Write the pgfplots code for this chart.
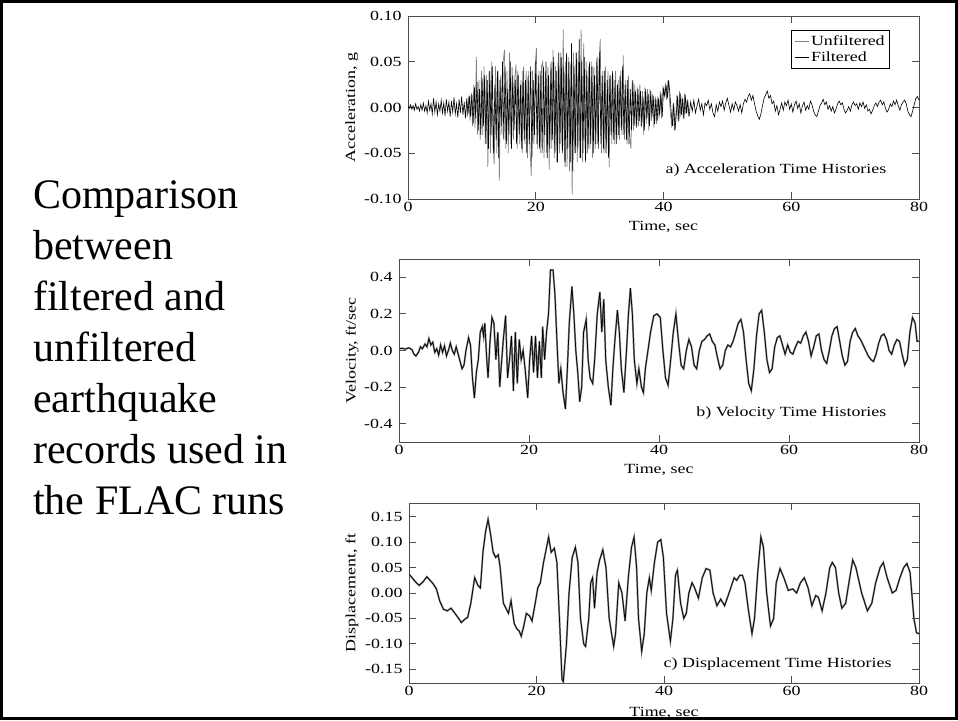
\documentclass[border=0pt]{standalone}
\usepackage{fontspec}
\setmainfont{Liberation Serif}
\newfontfamily\plotfont[FakeStretch=1.28]{Liberation Serif}
\usepackage{pgfplots}
\pgfplotsset{compat=1.18}

\definecolor{unf}{gray}{0.5}
\definecolor{frame}{gray}{0.3}

\pgfplotsset{
  quake/.style={
    scale only axis,
    anchor=south west,
    xmin=0, xmax=80,
    xtick={0,20,40,60,80},
    xticklabels={0,20,40,60,80},
    tick align=inside,
    major tick length=7pt,
    axis line style={frame, line width=0.9pt},
    tick style={frame, line width=0.9pt},
    ticklabel style={font=\plotfont\fontsize{14}{14}\selectfont},
    yticklabel style={xshift=-3pt},
    label style={font=\plotfont\fontsize{14}{14}\selectfont},
    xlabel={Time, sec},
  },
}

\begin{document}
\begin{tikzpicture}
\useasboundingbox (0,0) rectangle (958pt,720pt);

% left caption
\begin{scope}[every node/.style={anchor=base west, inner sep=0pt, font=\fontsize{42}{51}\selectfont}]
\node at (33pt,511pt) {Comparison};
\node at (33pt,460pt) {between};
\node at (33pt,409pt) {filtered and};
\node at (33pt,358pt) {unfiltered};
\node at (33pt,307pt) {earthquake};
\node at (33pt,256pt) {records used in};
\node at (33pt,205pt) {the FLAC runs};
\end{scope}

% a) acceleration
\begin{axis}[quake,
  at={(408pt,521pt)}, width=511pt, height=183pt,
  ymin=-0.1, ymax=0.1,
  ytick={-0.1,-0.05,0,0.05,0.1},
  yticklabels={-0.10,-0.05,0.00,0.05,0.10},
  ylabel={Acceleration, g},
  ylabel style={at={(axis description cs:-0.110,0.5)}, anchor=center},
  xlabel style={at={(axis description cs:0.5,-0.153)}, anchor=center},
  legend style={at={(rel axis cs:0.943,0.923)}, anchor=north east,
    draw=black, fill=white, font=\plotfont\fontsize{14}{16}\selectfont,
    inner xsep=3pt, inner ysep=3pt, row sep=1pt},
  legend cell align=left,
  legend image code/.code={\draw[#1, line width=0.7pt] (2pt,0pt) -- (16pt,0pt);},
]
\addplot[unf, line width=0.7pt] coordinates {
(9.1,0.008) (9.3,-0.01) (9.5,0.012) (9.7,-0.014) (9.9,0.016) (10.1,-0.02)
(10.3,0.025) (10.5,-0.022) (10.7,0.055) (10.9,-0.03) (11.1,0.03) (11.3,-0.035)
(11.5,0.04) (11.7,-0.03) (11.9,0.045) (12.1,-0.04) (12.3,0.035) (12.5,-0.065)
(12.7,0.04) (12.9,-0.05) (13.1,0.05) (13.3,-0.04) (13.5,-0.062) (13.7,0.045)
(13.9,-0.05) (14.1,0.04) (14.3,-0.08) (14.5,0.035) (14.7,-0.03) (14.9,0.05)
(15.1,0.063) (15.3,-0.045) (15.5,0.04) (15.7,-0.05) (15.9,0.06) (16.1,-0.04)
(16.3,0.045) (16.5,-0.035) (16.7,0.03) (16.9,0.047) (17.1,-0.045) (17.3,0.035)
(17.5,-0.04) (17.7,0.03) (17.9,-0.05) (18.1,0.045) (18.3,-0.04) (18.5,0.04)
(18.7,-0.055) (18.9,0.04) (19.1,-0.045) (19.3,-0.075) (19.5,0.04) (19.7,-0.04)
(19.9,0.045) (20.1,0.065) (20.3,-0.045) (20.5,0.04) (20.7,-0.05) (20.9,0.045)
(21.1,0.05) (21.3,-0.055) (21.5,0.04) (21.7,-0.05) (21.9,0.045) (22.1,-0.068)
(22.3,0.04) (22.5,-0.045) (22.7,0.063) (22.9,-0.055) (23.1,0.045) (23.3,-0.06)
(23.5,0.05) (23.7,-0.05) (23.9,0.06) (24.1,-0.045) (24.3,0.085) (24.5,-0.06)
(24.7,0.05) (24.9,-0.065) (25.1,0.055) (25.3,-0.07) (25.5,0.05) (25.7,-0.095)
(25.9,0.06) (26.1,-0.05) (26.3,0.06) (26.5,-0.06) (26.7,0.05) (26.9,-0.055)
(27.1,0.085) (27.3,-0.06) (27.5,0.07) (27.7,-0.045) (27.9,0.05) (28.1,-0.05)
(28.3,0.045) (28.5,-0.045) (28.7,0.05) (28.9,-0.055) (29.1,0.045) (29.3,-0.045)
(29.5,0.05) (29.7,-0.04) (29.9,0.05) (30.1,0.075) (30.3,-0.05) (30.5,0.04)
(30.7,-0.05) (30.9,0.045) (31.1,-0.045) (31.3,0.04) (31.5,-0.065) (31.7,0.035)
(31.9,-0.04) (32.1,0.035) (32.3,-0.04) (32.5,0.04) (32.7,-0.035) (32.9,0.03)
(33.1,-0.035) (33.3,0.04) (33.5,-0.03) (33.7,0.057) (33.9,-0.035) (34.1,0.03)
(34.3,-0.04) (34.5,0.035) (34.7,-0.03) (34.9,-0.045) (35.1,0.03) (35.3,-0.025)
(35.5,0.025) (35.7,-0.02) (35.9,0.022) (36.1,-0.02) (36.3,0.025) (36.5,-0.022)
(36.7,0.018) (36.9,-0.03) (37.1,0.022) (37.3,-0.018) (37.5,0.02) (37.7,-0.025)
(37.9,0.02) (38.1,-0.015) (38.3,0.015) (38.5,-0.022) (38.7,0.012) (38.9,-0.018)
(39.1,0.012) (39.3,-0.012) (39.5,0.018) (39.7,-0.012) (39.9,0.022) (40.1,0.015)
(40.3,0.025) (40.5,0.008) (40.7,0.03) (40.9,0.012) (41.1,-0.008) (41.3,-0.022)
(41.5,0.004) (41.7,-0.025) (41.9,-0.01) (42.1,0.014) (42.3,-0.016) (42.5,0.018)
(42.7,-0.01) (42.9,0.012) (43.1,-0.013) (43.3,0.015) (43.5,-0.007) (43.7,0.009)
(43.9,-0.009)
};
\addlegendentry{Unfiltered}
\addplot[black, line width=0.6pt] coordinates {
(0,0.002) (0.2,-0.001) (0.4,0.003) (0.6,-0.002) (0.8,0.002) (1.0,-0.003)
(1.2,0.004) (1.4,-0.002) (1.6,0.001) (1.8,-0.004) (2.0,0.003) (2.2,-0.003)
(2.4,0.005) (2.6,-0.004) (2.8,0.002) (3.0,-0.006) (3.2,0.007) (3.4,-0.003)
(3.6,0.004) (3.8,-0.007) (4.0,0.01) (4.2,-0.005) (4.4,0.006) (4.6,-0.008)
(4.8,0.004) (5.0,-0.004) (5.2,0.008) (5.4,-0.006) (5.6,0.005) (5.8,-0.009)
(6.0,0.009) (6.2,-0.004) (6.4,0.006) (6.6,-0.01) (6.8,0.007) (7.0,-0.005)
(7.2,0.011) (7.4,-0.007) (7.6,0.004) (7.8,-0.011) (8.0,0.009) (8.2,-0.006)
(8.4,0.012) (8.6,-0.008) (8.8,0.006) (9.0,-0.012) (9.2,0.01) (9.4,-0.007)
(9.6,0.013) (9.8,-0.01)
(10.0,0.015) (10.2,-0.018) (10.4,0.022) (10.6,-0.012) (10.8,0.028) (11.0,-0.025)
(11.2,0.02) (11.4,-0.03) (11.6,0.032) (11.8,-0.02) (12.0,0.035) (12.2,-0.04)
(12.4,0.03) (12.6,-0.045) (12.8,0.04) (13.0,-0.03) (13.2,0.045) (13.4,-0.05)
(13.6,0.025) (13.8,-0.035) (14.0,0.04) (14.2,-0.055) (14.4,0.03) (14.6,-0.02)
(14.8,0.05) (15.0,-0.035) (15.2,0.045) (15.4,-0.04) (15.6,0.02) (15.8,-0.03)
(16.0,0.05) (16.2,-0.045) (16.4,0.035) (16.6,-0.025) (16.8,0.03) (17.0,-0.04)
(17.2,0.04) (17.4,-0.03) (17.6,0.025) (17.8,-0.045) (18.0,0.04) (18.2,-0.035)
(18.4,0.03) (18.6,-0.05) (18.8,0.035) (19.0,-0.04) (19.2,0.045) (19.4,-0.055)
(19.6,0.03) (19.8,-0.03) (20.0,0.05) (20.2,-0.04) (20.4,0.035) (20.6,-0.045)
(20.8,0.04) (21.0,-0.05) (21.2,0.045) (21.4,-0.03) (21.6,0.05) (21.8,-0.055)
(22.0,0.035) (22.2,-0.045) (22.4,0.05) (22.6,-0.035) (22.8,0.055) (23.0,-0.05)
(23.2,0.04) (23.4,-0.06) (23.6,0.06) (23.8,-0.04) (24.0,0.055) (24.2,-0.05)
(24.4,0.045) (24.6,-0.065) (24.8,0.06) (25.0,-0.045) (25.2,0.05) (25.4,-0.06)
(25.6,0.07) (25.8,-0.07) (26.0,0.045) (26.2,-0.05) (26.4,0.06) (26.6,-0.045)
(26.8,0.075) (27.0,-0.055) (27.2,0.05) (27.4,-0.05) (27.6,0.055) (27.8,-0.06)
(28.0,0.04) (28.2,-0.045) (28.4,0.05) (28.6,-0.04) (28.8,0.045) (29.0,-0.05)
(29.2,0.035) (29.4,-0.04) (29.6,0.055) (29.8,-0.045) (30.0,0.06) (30.2,-0.04)
(30.4,0.035) (30.6,-0.045) (30.8,0.04) (31.0,-0.05) (31.2,0.03) (31.4,-0.055)
(31.6,0.035) (31.8,-0.03) (32.0,0.04) (32.2,-0.035) (32.4,0.03) (32.6,-0.04)
(32.8,0.025) (33.0,-0.03) (33.2,0.035) (33.4,-0.025) (33.6,0.045) (33.8,-0.03)
(34.0,0.025) (34.2,-0.035) (34.4,0.03) (34.6,-0.04) (34.8,0.02) (35.0,-0.025)
(35.2,0.03) (35.4,-0.02) (35.6,0.018) (35.8,-0.022)
(36.0,0.02) (36.2,-0.015) (36.4,0.018) (36.6,-0.02) (36.8,0.012) (37.0,-0.025)
(37.2,0.02) (37.4,-0.012) (37.6,0.015) (37.8,-0.02) (38.0,0.018) (38.2,-0.01)
(38.4,0.012) (38.6,-0.018) (38.8,0.01) (39.0,-0.015) (39.2,0.01) (39.4,-0.008)
(39.6,0.015) (39.8,-0.01) (40.0,0.02) (40.2,0.012) (40.4,0.025) (40.6,0.01)
(40.8,0.03) (41.0,0.015) (41.2,-0.005) (41.4,-0.02) (41.6,0.005) (41.8,-0.025)
(42.0,-0.008) (42.2,0.012) (42.4,-0.015) (42.6,0.016) (42.8,-0.008) (43.0,0.01)
(43.2,-0.012) (43.4,0.014) (43.6,-0.006) (43.8,0.008)
(44.0,-0.01) (44.25,0.006) (44.5,-0.004) (44.75,0.008) (45.0,-0.006) (45.25,0.002)
(45.5,0.009) (45.75,-0.003) (46.0,0.004) (46.25,-0.008) (46.5,0.005) (46.75,0.002)
(47.0,0.008) (47.25,-0.002) (47.5,0.004) (47.75,-0.006) (48.0,-0.01) (48.25,0.003)
(48.5,-0.004) (48.75,0.006) (49.0,0.001) (49.25,0.007) (49.5,-0.003) (49.75,0.005)
(50.0,0.01) (50.25,0.002) (50.5,-0.005) (50.75,0.004) (51.0,-0.003) (51.25,0.006)
(51.5,0.002) (51.75,-0.004) (52.0,0.003) (52.25,-0.006) (52.5,0.004) (52.75,0.009)
(53.0,0.006) (53.25,0.012) (53.5,0.015) (53.75,0.008) (54.0,0.013) (54.25,0.004)
(54.5,-0.004) (54.75,-0.009) (55.0,-0.013) (55.25,-0.007) (55.5,0.002) (55.75,0.01)
(56.0,0.014) (56.25,0.018) (56.5,0.01) (56.75,0.013) (57.0,0.004) (57.25,0.007)
(57.5,-0.004) (57.75,0.002) (58.0,-0.008) (58.25,-0.002) (58.5,0.005) (58.75,-0.003)
(59.0,0.006) (59.25,0.002) (59.5,0.008) (59.75,-0.002) (60.0,0.004) (60.25,-0.005)
(60.5,0.003) (60.75,0.007) (61.0,-0.001) (61.25,0.004) (61.5,-0.006) (61.75,0.002)
(62.0,0.006) (62.25,-0.003) (62.5,0.002) (62.75,-0.002) (63.0,0.007) (63.25,0.003)
(63.5,-0.004) (63.75,-0.008) (64.0,-0.01) (64.25,-0.004) (64.5,0.002) (64.75,0.005)
(65.0,0.009) (65.25,0.003) (65.5,0.006) (65.75,-0.002) (66.0,0.002) (66.25,-0.004)
(66.5,0.001) (66.75,-0.006) (67.0,-0.002) (67.25,0.004) (67.5,0.007) (67.75,0.003)
(68.0,0.005) (68.25,-0.002) (68.5,-0.006) (68.75,-0.003) (69.0,0.001) (69.25,-0.004)
(69.5,0.003) (69.75,0.006) (70.0,0.002) (70.25,0.004) (70.5,-0.002) (70.75,0.005)
(71.0,0.001) (71.25,0.006) (71.5,-0.001) (71.75,0.003) (72.0,-0.004) (72.25,-0.002)
(72.5,-0.007) (72.75,-0.003) (73.0,0.002) (73.25,0.005) (73.5,0.001) (73.75,0.006)
(74.0,0.008) (74.25,0.003) (74.5,0.006) (74.75,-0.001) (75.0,-0.005) (75.25,-0.002)
(75.5,0.004) (75.75,0.001) (76.0,0.007) (76.25,0.003) (76.5,0.008) (76.75,0.002)
(77.0,-0.003) (77.25,0.003) (77.5,0.006) (77.75,0.008) (78.0,0.004) (78.25,-0.004)
(78.5,-0.008) (78.75,-0.01) (79.0,-0.004) (79.25,0.003) (79.5,0.01) (79.75,0.012)
(80.0,0.008)
};
\addlegendentry{Filtered}
\node[anchor=east, font=\plotfont\fontsize{14}{14}\selectfont] at (rel axis cs:0.943,0.158) {a) Acceleration Time Histories};
\end{axis}

% b) velocity
\begin{axis}[quake,
  at={(399pt,278pt)}, width=520pt, height=183pt,
  ymin=-0.5, ymax=0.5,
  ytick={-0.4,-0.2,0,0.2,0.4},
  yticklabels={-0.4,-0.2,0.0,0.2,0.4},
  ylabel={Velocity, ft/sec},
  ylabel style={at={(axis description cs:-0.090,0.5)}, anchor=center},
  xlabel style={at={(axis description cs:0.5,-0.153)}, anchor=center},
]
\addplot[unf, line width=1.8pt, forget plot] coordinates {
(0,0.01) (0.5,0.012) (1.0,0.008) (1.5,0.015) (2.0,0.005) (2.3,-0.02) (2.6,-0.03)
(3.0,-0.01) (3.3,0.02) (3.6,0.01) (4.0,0.035) (4.3,0.02) (4.6,0.065) (4.9,0.03)
(5.2,0.045) (5.5,-0.01) (5.8,0.01) (6.1,-0.025) (6.4,0.03) (6.7,-0.01) (7.0,0.025)
(7.3,-0.03) (7.6,0.0) (7.9,0.04) (8.2,0.0) (8.5,-0.02) (8.8,0.02) (9.1,-0.02)
(9.4,-0.06) (9.7,-0.1) (10.0,-0.08) (10.3,0.0) (10.7,0.07) (11.0,0.03) (11.3,-0.15)
(11.6,-0.26) (11.9,-0.12) (12.2,-0.05) (12.5,0.1) (12.8,0.13) (13.0,0.08) (13.2,0.15)
(13.5,-0.05) (13.7,-0.15) (14.0,0.05) (14.3,0.18) (14.6,0.15) (14.9,-0.05) (15.2,0.1)
(15.5,-0.2) (15.8,-0.05) (16.1,0.08) (16.4,0.19) (16.7,-0.15) (17.0,-0.05) (17.3,0.08)
(17.6,-0.22) (17.9,0.1) (18.2,-0.18) (18.5,0.06) (18.8,-0.05) (19.1,0.0) (19.4,-0.1)
(19.8,-0.26) (20.1,-0.05) (20.4,0.08) (20.7,-0.12) (21.0,0.08) (21.3,-0.15) (21.6,0.05)
(21.9,-0.15) (22.1,0.13) (22.4,-0.05) (22.7,0.1) (23.0,0.2) (23.3,0.44) (23.7,0.44)
(24.0,0.3) (24.3,0.05) (24.6,-0.18) (24.9,-0.1) (25.2,-0.22) (25.6,-0.32) (25.9,-0.1)
(26.2,0.15) (26.6,0.35) (26.9,0.2) (27.2,0.0) (27.5,-0.12) (27.8,-0.28) (28.1,-0.2)
(28.4,0.1) (28.8,0.17) (29.1,-0.05) (29.4,-0.15) (29.8,-0.18) (30.1,-0.05) (30.5,0.2)
(30.9,0.32) (31.2,0.1) (31.5,0.28) (31.8,-0.05) (32.2,-0.2) (32.6,-0.3) (32.9,-0.1)
(33.2,0.05) (33.6,0.22) (33.9,0.1) (34.2,-0.1) (34.6,-0.23) (35.0,0.0) (35.3,0.2)
(35.6,0.34) (35.9,0.2) (36.2,-0.05) (36.6,-0.18) (36.9,-0.1) (37.3,-0.2) (37.6,-0.23)
(37.9,-0.1) (38.3,0.0) (38.7,0.1) (39.2,0.19) (39.7,0.2) (40.2,0.18) (40.6,0.0)
(41.0,-0.15) (41.4,-0.19) (41.8,-0.05) (42.2,0.1) (42.6,0.2) (43.0,0.05) (43.4,-0.08)
(43.8,-0.1) (44.2,0.0) (44.6,0.06) (45.0,0.02) (45.4,-0.08) (45.8,-0.1) (46.2,0.0)
(46.6,0.05) (47.0,0.06) (47.4,0.08) (47.8,0.09) (48.2,0.05) (48.6,0.03) (49.0,-0.04)
(49.4,-0.1) (49.8,-0.08) (50.2,0.0) (50.6,0.03) (51.0,0.02) (51.4,0.05) (51.8,0.1)
(52.2,0.15) (52.6,0.17) (53.0,0.1) (53.4,-0.05) (53.8,-0.18) (54.2,-0.22) (54.6,-0.1)
(55.0,0.08) (55.4,0.2) (55.8,0.22) (56.2,0.1) (56.6,-0.05) (57.0,-0.12) (57.4,-0.1)
(57.8,0.02) (58.2,0.07) (58.6,0.08) (59.0,0.03) (59.4,-0.02) (59.8,0.03) (60.2,-0.01)
(60.6,-0.02) (61.0,0.02) (61.4,0.05) (61.8,0.04) (62.2,0.08) (62.6,0.1) (63.0,0.05)
(63.4,-0.03) (63.8,0.02) (64.2,0.08) (64.6,0.09) (65.0,0.0) (65.4,-0.05) (65.8,-0.07)
(66.2,0.0) (66.6,0.08) (67.0,0.12) (67.4,0.13) (67.8,0.05) (68.2,-0.03) (68.6,-0.08)
(69.0,-0.06) (69.4,0.05) (69.8,0.1) (70.2,0.12) (70.6,0.08) (71.0,0.06) (71.4,0.03)
(71.8,0.0) (72.2,-0.03) (72.6,-0.05) (73.0,-0.06) (73.4,-0.02) (73.8,0.04) (74.2,0.08)
(74.6,0.09) (75.0,0.06) (75.4,0.0) (75.8,-0.02) (76.2,0.03) (76.6,0.06) (77.0,0.05)
(77.4,-0.02) (77.8,-0.08) (78.2,-0.05) (78.6,0.1) (79.0,0.18) (79.4,0.15) (79.7,0.05)
(80.0,0.05)
};
\addplot[black, line width=0.7pt, forget plot] coordinates {
(0,0.01) (0.5,0.012) (1.0,0.008) (1.5,0.015) (2.0,0.005) (2.3,-0.02) (2.6,-0.03)
(3.0,-0.01) (3.3,0.02) (3.6,0.01) (4.0,0.035) (4.3,0.02) (4.6,0.065) (4.9,0.03)
(5.2,0.045) (5.5,-0.01) (5.8,0.01) (6.1,-0.025) (6.4,0.03) (6.7,-0.01) (7.0,0.025)
(7.3,-0.03) (7.6,0.0) (7.9,0.04) (8.2,0.0) (8.5,-0.02) (8.8,0.02) (9.1,-0.02)
(9.4,-0.06) (9.7,-0.1) (10.0,-0.08) (10.3,0.0) (10.7,0.07) (11.0,0.03) (11.3,-0.15)
(11.6,-0.26) (11.9,-0.12) (12.2,-0.05) (12.5,0.1) (12.8,0.13) (13.0,0.08) (13.2,0.15)
(13.5,-0.05) (13.7,-0.15) (14.0,0.05) (14.3,0.18) (14.6,0.15) (14.9,-0.05) (15.2,0.1)
(15.5,-0.2) (15.8,-0.05) (16.1,0.08) (16.4,0.19) (16.7,-0.15) (17.0,-0.05) (17.3,0.08)
(17.6,-0.22) (17.9,0.1) (18.2,-0.18) (18.5,0.06) (18.8,-0.05) (19.1,0.0) (19.4,-0.1)
(19.8,-0.26) (20.1,-0.05) (20.4,0.08) (20.7,-0.12) (21.0,0.08) (21.3,-0.15) (21.6,0.05)
(21.9,-0.15) (22.1,0.13) (22.4,-0.05) (22.7,0.1) (23.0,0.2) (23.3,0.44) (23.7,0.44)
(24.0,0.3) (24.3,0.05) (24.6,-0.18) (24.9,-0.1) (25.2,-0.22) (25.6,-0.32) (25.9,-0.1)
(26.2,0.15) (26.6,0.35) (26.9,0.2) (27.2,0.0) (27.5,-0.12) (27.8,-0.28) (28.1,-0.2)
(28.4,0.1) (28.8,0.17) (29.1,-0.05) (29.4,-0.15) (29.8,-0.18) (30.1,-0.05) (30.5,0.2)
(30.9,0.32) (31.2,0.1) (31.5,0.28) (31.8,-0.05) (32.2,-0.2) (32.6,-0.3) (32.9,-0.1)
(33.2,0.05) (33.6,0.22) (33.9,0.1) (34.2,-0.1) (34.6,-0.23) (35.0,0.0) (35.3,0.2)
(35.6,0.34) (35.9,0.2) (36.2,-0.05) (36.6,-0.18) (36.9,-0.1) (37.3,-0.2) (37.6,-0.23)
(37.9,-0.1) (38.3,0.0) (38.7,0.1) (39.2,0.19) (39.7,0.2) (40.2,0.18) (40.6,0.0)
(41.0,-0.15) (41.4,-0.19) (41.8,-0.05) (42.2,0.1) (42.6,0.2) (43.0,0.05) (43.4,-0.08)
(43.8,-0.1) (44.2,0.0) (44.6,0.06) (45.0,0.02) (45.4,-0.08) (45.8,-0.1) (46.2,0.0)
(46.6,0.05) (47.0,0.06) (47.4,0.08) (47.8,0.09) (48.2,0.05) (48.6,0.03) (49.0,-0.04)
(49.4,-0.1) (49.8,-0.08) (50.2,0.0) (50.6,0.03) (51.0,0.02) (51.4,0.05) (51.8,0.1)
(52.2,0.15) (52.6,0.17) (53.0,0.1) (53.4,-0.05) (53.8,-0.18) (54.2,-0.22) (54.6,-0.1)
(55.0,0.08) (55.4,0.2) (55.8,0.22) (56.2,0.1) (56.6,-0.05) (57.0,-0.12) (57.4,-0.1)
(57.8,0.02) (58.2,0.07) (58.6,0.08) (59.0,0.03) (59.4,-0.02) (59.8,0.03) (60.2,-0.01)
(60.6,-0.02) (61.0,0.02) (61.4,0.05) (61.8,0.04) (62.2,0.08) (62.6,0.1) (63.0,0.05)
(63.4,-0.03) (63.8,0.02) (64.2,0.08) (64.6,0.09) (65.0,0.0) (65.4,-0.05) (65.8,-0.07)
(66.2,0.0) (66.6,0.08) (67.0,0.12) (67.4,0.13) (67.8,0.05) (68.2,-0.03) (68.6,-0.08)
(69.0,-0.06) (69.4,0.05) (69.8,0.1) (70.2,0.12) (70.6,0.08) (71.0,0.06) (71.4,0.03)
(71.8,0.0) (72.2,-0.03) (72.6,-0.05) (73.0,-0.06) (73.4,-0.02) (73.8,0.04) (74.2,0.08)
(74.6,0.09) (75.0,0.06) (75.4,0.0) (75.8,-0.02) (76.2,0.03) (76.6,0.06) (77.0,0.05)
(77.4,-0.02) (77.8,-0.08) (78.2,-0.05) (78.6,0.1) (79.0,0.18) (79.4,0.15) (79.7,0.05)
(80.0,0.05)
};
\node[anchor=east, font=\plotfont\fontsize{14}{14}\selectfont] at (rel axis cs:0.944,0.158) {b) Velocity Time Histories};
\end{axis}

% c) displacement
\begin{axis}[quake,
  at={(409pt,37pt)}, width=510pt, height=180pt,
  ymin=-0.177, ymax=0.177,
  ytick={-0.15,-0.1,-0.05,0,0.05,0.1,0.15},
  yticklabels={-0.15,-0.10,-0.05,0.00,0.05,0.10,0.15},
  ylabel={Displacement, ft},
  ylabel style={at={(axis description cs:-0.112,0.5)}, anchor=center},
  xlabel style={at={(axis description cs:0.5,-0.167)}, anchor=center},
]
\addplot[unf, line width=1.8pt, forget plot] coordinates {
(0,0.037) (0.5,0.03) (1.0,0.022) (1.6,0.015) (2.2,0.022) (2.8,0.032) (3.3,0.025)
(3.8,0.018) (4.3,0.008) (4.8,-0.015) (5.4,-0.032) (6.0,-0.035) (6.6,-0.03) (7.2,-0.04)
(7.9,-0.052) (8.2,-0.058) (8.7,-0.052) (9.2,-0.048) (9.7,-0.02) (10.3,0.03) (10.8,0.015)
(11.2,0.01) (11.6,0.08) (12.0,0.12) (12.4,0.145) (12.8,0.115) (13.2,0.08) (13.6,0.07)
(14.0,0.075) (14.3,0.05) (14.8,-0.02) (15.6,-0.04) (16.0,-0.015) (16.5,-0.06) (16.9,-0.07)
(17.3,-0.075) (17.6,-0.085) (18.0,-0.065) (18.4,-0.04) (18.9,-0.045) (19.3,-0.055) (19.8,-0.02)
(20.2,0.01) (20.6,0.02) (21.1,0.06) (21.5,0.085) (21.9,0.11) (22.3,0.08) (22.8,0.088)
(23.2,0.06) (23.6,-0.05) (24.0,-0.17) (24.2,-0.175) (24.7,-0.1) (25.1,0.0) (25.6,0.07)
(26.1,0.09) (26.5,0.06) (26.9,-0.05) (27.4,-0.1) (27.7,-0.105) (28.2,-0.05) (28.5,0.02)
(28.8,0.03) (29.1,-0.03) (29.5,0.04) (29.9,0.065) (30.4,0.085) (30.9,0.05) (31.4,-0.05)
(32.1,-0.105) (32.4,-0.08) (32.9,0.02) (33.4,0.0) (33.9,-0.055) (34.4,0.03) (34.9,0.09)
(35.3,0.11) (35.7,0.05) (36.0,-0.05) (36.5,-0.115) (36.9,-0.08) (37.3,0.0) (37.7,0.03)
(38.0,0.005) (38.5,0.06) (39.0,0.1) (39.5,0.105) (39.9,0.07) (40.4,-0.04) (41.0,-0.095)
(41.4,-0.05) (41.8,0.035) (42.1,0.045) (42.6,-0.02) (43.1,-0.05) (43.5,-0.04) (43.9,0.0)
(44.4,0.02) (44.8,0.01) (45.4,-0.01) (46.0,0.03) (46.6,0.048) (47.2,0.045) (47.7,0.0)
(48.3,-0.025) (48.9,-0.012) (49.5,-0.025) (50.2,0.0) (51.0,0.03) (51.4,0.025) (51.9,0.035)
(52.3,0.035) (52.7,0.02) (53.2,-0.03) (53.8,-0.08) (54.2,-0.05) (54.7,0.04) (55.2,0.11)
(55.6,0.09) (56.1,0.0) (56.7,-0.065) (57.2,-0.05) (57.6,0.02) (58.2,0.048) (58.8,0.03)
(59.5,0.005) (60.2,0.008) (60.8,0.0) (61.4,0.02) (62.0,0.03) (62.6,0.01) (63.2,-0.025)
(63.8,-0.005) (64.2,-0.008) (64.8,-0.035) (65.4,0.0) (66.0,0.05) (66.4,0.06) (66.9,0.05)
(67.4,0.0) (67.9,-0.03) (68.5,-0.02) (69.0,0.02) (69.6,0.065) (70.1,0.05) (71.0,0.0)
(71.9,-0.035) (72.6,-0.02) (73.2,0.02) (73.9,0.05) (74.4,0.06) (75.0,0.03) (75.8,0.0)
(76.4,0.005) (77.0,0.03) (77.6,0.05) (78.1,0.058) (78.6,0.04) (79.2,-0.05) (79.6,-0.078)
(80.0,-0.08)
};
\addplot[black, line width=0.7pt, forget plot] coordinates {
(0,0.037) (0.5,0.03) (1.0,0.022) (1.6,0.015) (2.2,0.022) (2.8,0.032) (3.3,0.025)
(3.8,0.018) (4.3,0.008) (4.8,-0.015) (5.4,-0.032) (6.0,-0.035) (6.6,-0.03) (7.2,-0.04)
(7.9,-0.052) (8.2,-0.058) (8.7,-0.052) (9.2,-0.048) (9.7,-0.02) (10.3,0.03) (10.8,0.015)
(11.2,0.01) (11.6,0.08) (12.0,0.12) (12.4,0.145) (12.8,0.115) (13.2,0.08) (13.6,0.07)
(14.0,0.075) (14.3,0.05) (14.8,-0.02) (15.6,-0.04) (16.0,-0.015) (16.5,-0.06) (16.9,-0.07)
(17.3,-0.075) (17.6,-0.085) (18.0,-0.065) (18.4,-0.04) (18.9,-0.045) (19.3,-0.055) (19.8,-0.02)
(20.2,0.01) (20.6,0.02) (21.1,0.06) (21.5,0.085) (21.9,0.11) (22.3,0.08) (22.8,0.088)
(23.2,0.06) (23.6,-0.05) (24.0,-0.17) (24.2,-0.175) (24.7,-0.1) (25.1,0.0) (25.6,0.07)
(26.1,0.09) (26.5,0.06) (26.9,-0.05) (27.4,-0.1) (27.7,-0.105) (28.2,-0.05) (28.5,0.02)
(28.8,0.03) (29.1,-0.03) (29.5,0.04) (29.9,0.065) (30.4,0.085) (30.9,0.05) (31.4,-0.05)
(32.1,-0.105) (32.4,-0.08) (32.9,0.02) (33.4,0.0) (33.9,-0.055) (34.4,0.03) (34.9,0.09)
(35.3,0.11) (35.7,0.05) (36.0,-0.05) (36.5,-0.115) (36.9,-0.08) (37.3,0.0) (37.7,0.03)
(38.0,0.005) (38.5,0.06) (39.0,0.1) (39.5,0.105) (39.9,0.07) (40.4,-0.04) (41.0,-0.095)
(41.4,-0.05) (41.8,0.035) (42.1,0.045) (42.6,-0.02) (43.1,-0.05) (43.5,-0.04) (43.9,0.0)
(44.4,0.02) (44.8,0.01) (45.4,-0.01) (46.0,0.03) (46.6,0.048) (47.2,0.045) (47.7,0.0)
(48.3,-0.025) (48.9,-0.012) (49.5,-0.025) (50.2,0.0) (51.0,0.03) (51.4,0.025) (51.9,0.035)
(52.3,0.035) (52.7,0.02) (53.2,-0.03) (53.8,-0.08) (54.2,-0.05) (54.7,0.04) (55.2,0.11)
(55.6,0.09) (56.1,0.0) (56.7,-0.065) (57.2,-0.05) (57.6,0.02) (58.2,0.048) (58.8,0.03)
(59.5,0.005) (60.2,0.008) (60.8,0.0) (61.4,0.02) (62.0,0.03) (62.6,0.01) (63.2,-0.025)
(63.8,-0.005) (64.2,-0.008) (64.8,-0.035) (65.4,0.0) (66.0,0.05) (66.4,0.06) (66.9,0.05)
(67.4,0.0) (67.9,-0.03) (68.5,-0.02) (69.0,0.02) (69.6,0.065) (70.1,0.05) (71.0,0.0)
(71.9,-0.035) (72.6,-0.02) (73.2,0.02) (73.9,0.05) (74.4,0.06) (75.0,0.03) (75.8,0.0)
(76.4,0.005) (77.0,0.03) (77.6,0.05) (78.1,0.058) (78.6,0.04) (79.2,-0.05) (79.6,-0.078)
(80.0,-0.08)
};
\node[anchor=east, font=\plotfont\fontsize{14}{14}\selectfont] at (rel axis cs:0.953,0.106) {c) Displacement Time Histories};
\end{axis}

% outer frame
\draw[line width=3pt] (1.5pt,1.5pt) rectangle (956.5pt,718.5pt);
\end{tikzpicture}
\end{document}
